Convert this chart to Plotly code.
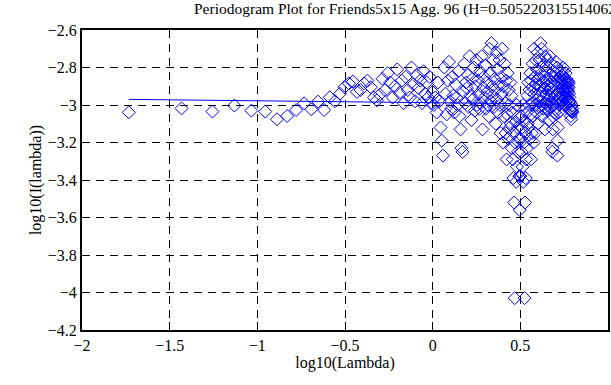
import plotly.graph_objects as go

# log10 of Fourier frequency (lambda) for each periodogram ordinate
log_lambda = [
 -1.733, -1.432, -1.256, -1.131, -1.034, -0.955, -0.888, -0.830, -0.779,
 -0.733, -0.692, -0.654, -0.619, -0.587, -0.557, -0.529, -0.503, -0.478, -0.455,
 -0.432, -0.411, -0.391, -0.372, -0.353, -0.335, -0.318, -0.302, -0.286, -0.271,
 -0.256, -0.242, -0.228, -0.215, -0.202, -0.189, -0.177, -0.165, -0.154, -0.142,
 -0.131, -0.121, -0.110, -0.100, -0.090, -0.080, -0.071, -0.061, -0.052, -0.043,
 -0.034, -0.026, -0.017, -0.009, -0.001, 0.007, 0.015, 0.023, 0.030, 0.038,
 0.045, 0.052, 0.059, 0.066, 0.073, 0.080, 0.086, 0.093, 0.099, 0.106,
 0.112, 0.118, 0.124, 0.130, 0.136, 0.142, 0.147, 0.153, 0.159, 0.164,
 0.170, 0.175, 0.181, 0.186, 0.191, 0.196, 0.201, 0.206, 0.211, 0.216,
 0.221, 0.226, 0.230, 0.235, 0.240, 0.244, 0.249, 0.253, 0.258, 0.262,
 0.267, 0.271, 0.275, 0.279, 0.284, 0.288, 0.292, 0.296, 0.300, 0.304,
 0.308, 0.312, 0.316, 0.320, 0.324, 0.327, 0.331, 0.335, 0.339, 0.342,
 0.346, 0.350, 0.353, 0.357, 0.360, 0.364, 0.367, 0.371, 0.374, 0.377,
 0.381, 0.384, 0.387, 0.391, 0.394, 0.397, 0.400, 0.403, 0.407, 0.410,
 0.413, 0.416, 0.419, 0.422, 0.425, 0.428, 0.431, 0.434, 0.437, 0.440,
 0.443, 0.446, 0.449, 0.451, 0.454, 0.457, 0.460, 0.463, 0.465, 0.468,
 0.471, 0.473, 0.476, 0.479, 0.481, 0.484, 0.487, 0.489, 0.492, 0.495,
 0.497, 0.500, 0.502, 0.505, 0.507, 0.510, 0.512, 0.515, 0.517, 0.520,
 0.522, 0.524, 0.527, 0.529, 0.531, 0.534, 0.536, 0.538, 0.541, 0.543,
 0.545, 0.548, 0.550, 0.552, 0.554, 0.557, 0.559, 0.561, 0.563, 0.566,
 0.568, 0.570, 0.572, 0.574, 0.576, 0.578, 0.581, 0.583, 0.585, 0.587,
 0.589, 0.591, 0.593, 0.595, 0.597, 0.599, 0.601, 0.603, 0.605, 0.607,
 0.609, 0.611, 0.613, 0.615, 0.617, 0.619, 0.621, 0.623, 0.625, 0.627,
 0.628, 0.630, 0.632, 0.634, 0.636, 0.638, 0.640, 0.641, 0.643, 0.645,
 0.647, 0.649, 0.650, 0.652, 0.654, 0.656, 0.658, 0.659, 0.661, 0.663,
 0.665, 0.666, 0.668, 0.670, 0.671, 0.673, 0.675, 0.677, 0.678, 0.680,
 0.682, 0.683, 0.685, 0.687, 0.688, 0.690, 0.692, 0.693, 0.695, 0.696,
 0.698, 0.700, 0.701, 0.703, 0.704, 0.706, 0.708, 0.709, 0.711, 0.712,
 0.714, 0.715, 0.717, 0.718, 0.720, 0.722, 0.723, 0.725, 0.726, 0.728,
 0.729, 0.731, 0.732, 0.734, 0.735, 0.737, 0.738, 0.740, 0.741, 0.743,
 0.744, 0.745, 0.747, 0.748, 0.750, 0.751, 0.753, 0.754, 0.756, 0.757,
 0.758, 0.760, 0.761, 0.763, 0.764, 0.765, 0.767, 0.768, 0.770, 0.771,
 0.772, 0.774, 0.775, 0.776, 0.778, 0.779, 0.780, 0.782, 0.783, 0.784,
 0.786, 0.787, 0.788, 0.790, 0.791, 0.792, 0.794, 0.795, 0.796, 0.797,
]

# log10 of periodogram I(lambda)
log_periodogram = [
 -3.039, -3.018, -3.035, -3.003, -3.030, -3.035, -3.076, -3.059, -3.027,
 -2.991, -3.023, -2.982, -3.027, -2.959, -2.980, -2.940, -2.905, -2.885, -2.875,
 -2.930, -2.920, -2.885, -2.870, -2.905, -2.960, -2.975, -2.945, -2.860, -2.920,
 -2.830, -2.880, -2.960, -2.900, -2.810, -2.935, -2.870, -2.990, -2.850, -2.920,
 -2.960, -2.800, -2.890, -2.980, -2.840, -2.910, -2.870, -2.990, -2.820, -2.940,
 -2.880, -2.960, -2.850, -2.990, -2.930, -3.000, -2.960, -3.040, -2.880, -2.980,
 -3.120, -3.190, -3.270, -2.800, -2.940, -3.050, -2.870, -2.770, -2.980, -3.020,
 -2.850, -2.950, -3.040, -2.890, -2.960, -3.000, -2.820, -3.060, -3.130, -3.230,
 -3.250, -2.930, -2.780, -2.990, -2.880, -2.910, -2.840, -3.010, -2.740, -2.950,
 -3.080, -2.860, -2.970, -2.800, -3.030, -2.900, -2.760, -3.000, -2.870, -2.940,
 -3.020, -2.820, -2.990, -2.740, -3.130, -2.910, -2.850, -2.960, -2.790, -3.020,
 -2.880, -2.930, -3.000, -3.060, -2.700, -2.830, -2.980, -2.670, -2.900, -2.950,
 -2.760, -3.010, -2.860, -2.920, -3.100, -2.720, -2.970, -2.810, -3.040, -2.890,
 -2.760, -3.000, -3.150, -2.850, -2.940, -2.700, -3.200, -2.900, -3.060, -2.780,
 -2.990, -3.150, -2.870, -3.290, -3.050, -2.830, -3.180, -2.920, -3.000, -3.120,
 -2.880, -3.100, -2.950, -3.230, -3.040, -3.290, -3.390, -3.150, -3.520, -4.030,
 -3.200, -3.090, -3.410, -3.000, -3.330, -3.120, -3.250, -3.060, -3.180, -3.380,
 -3.560,
 -3.380, -3.180, -3.060, -3.250, -3.120, -3.330, -3.000, -3.410, -3.090, -3.200,
 -4.030, -3.520, -3.150, -3.390, -3.290, -3.040, -3.230, -2.950, -3.100, -2.880,
 -3.120, -3.000, -2.920, -3.180, -2.830, -3.050, -3.290, -2.870, -3.150, -2.990,
 -2.780, -3.060, -2.900, -3.200, -2.700, -2.940, -2.850, -3.150, -3.000, -2.760,
 -2.890, -3.040, -2.810, -2.970, -2.720, -3.100, -2.920, -2.860, -3.010, -2.760,
 -2.950, -2.900, -2.670, -2.980, -2.830, -2.700, -3.060, -3.000, -2.930, -2.880,
 -3.020, -2.790, -2.960, -2.850, -2.910, -3.130, -2.740, -2.990, -2.820, -3.020,
 -2.940, -2.870, -3.000, -2.760, -2.900, -3.030, -2.800, -2.970, -2.860, -3.080,
 -2.950, -2.740, -3.010, -2.840, -2.910, -2.880, -2.990, -2.780, -2.930, -3.250,
 -3.230, -3.130, -3.060, -2.820, -3.000, -2.960, -2.890, -3.040, -2.950, -2.850,
 -3.020, -2.980, -2.770, -2.870, -3.050, -2.940, -2.800, -3.270, -3.190, -3.120,
 -2.980, -2.880, -3.040, -2.960, -3.000, -2.930, -2.990, -2.850, -2.960, -2.880,
 -2.940, -2.820, -2.990, -2.870, -2.910, -2.840, -2.980, -2.890, -2.800, -2.960,
 -2.920, -2.850, -2.990, -2.870, -2.935, -2.810, -2.900, -2.960, -2.880, -2.830,
 -2.920, -2.860, -2.945, -2.975, -2.960, -2.905, -2.870, -2.885, -2.920, -2.930,
 -2.875, -2.885, -2.905, -2.940, -2.980, -2.959, -3.027, -2.982, -3.023, -2.991,
 -3.027, -3.059, -3.076, -3.035, -3.030, -3.003, -3.035, -3.018, -3.039,
]

# least-squares fit line endpoints (slope = 1 - 2H)
fit_x = [-1.733, 0.797]
fit_y = [-2.970, -2.996]

x_ticks = [-2, -1.5, -1, -0.5, 0, 0.5, 1]
y_ticks = [-4.2, -4.0, -3.8, -3.6, -3.4, -3.2, -3.0, -2.8, -2.6]

title_text = "Periodogram Plot for Friends5x15 Agg. 96 (H=0.505220315514062)"
FONT = "Liberation Serif"

fig = go.Figure()
fig.add_trace(go.Scatter(
    x=log_lambda, y=log_periodogram, mode="markers",
    marker=dict(symbol="diamond-open", size=10, color="#0000ff",
                line=dict(width=1, color="#0000ff")),
    showlegend=False, hoverinfo="skip"))
fig.add_trace(go.Scatter(
    x=fit_x, y=fit_y, mode="lines",
    line=dict(color="#0000ff", width=1), showlegend=False, hoverinfo="skip"))

axis_common = dict(
    showline=True, linecolor="black", linewidth=2, mirror="ticks",
    ticks="inside", ticklen=8, tickwidth=1, tickcolor="black",
    showgrid=True, gridcolor="black", gridwidth=1, griddash="8px,6px",
    zeroline=False, automargin=False,
    tickfont=dict(family=FONT, size=16, color="black"),
)

fig.update_layout(
    width=611, height=385,
    margin=dict(l=82, r=3, t=30, b=55),
    paper_bgcolor="white", plot_bgcolor="white",
    font=dict(family=FONT, size=16, color="black"),
    xaxis=dict(range=[-2, 1], tickvals=x_ticks,
               title=dict(text="log10(Lambda)", font=dict(family=FONT, size=16), standoff=2),
               **axis_common),
    yaxis=dict(range=[-4.2, -2.6], tickvals=y_ticks,
               title=dict(text="log10(I(lambda))", font=dict(family=FONT, size=16), standoff=2),
               **axis_common),
    annotations=[dict(text=title_text, xref="paper", yref="paper",
                      x=(180 - 82) / 526, y=1 + (30 - 9) / 300, xshift=12,
                      xanchor="left", yanchor="middle", showarrow=False,
                      font=dict(family=FONT, size=15.5, color="black"))],
)

fig.write_html("out.html", config={"displayModeBar": False},
               post_script="document.body.style.margin='0';document.body.style.overflow='hidden';")
